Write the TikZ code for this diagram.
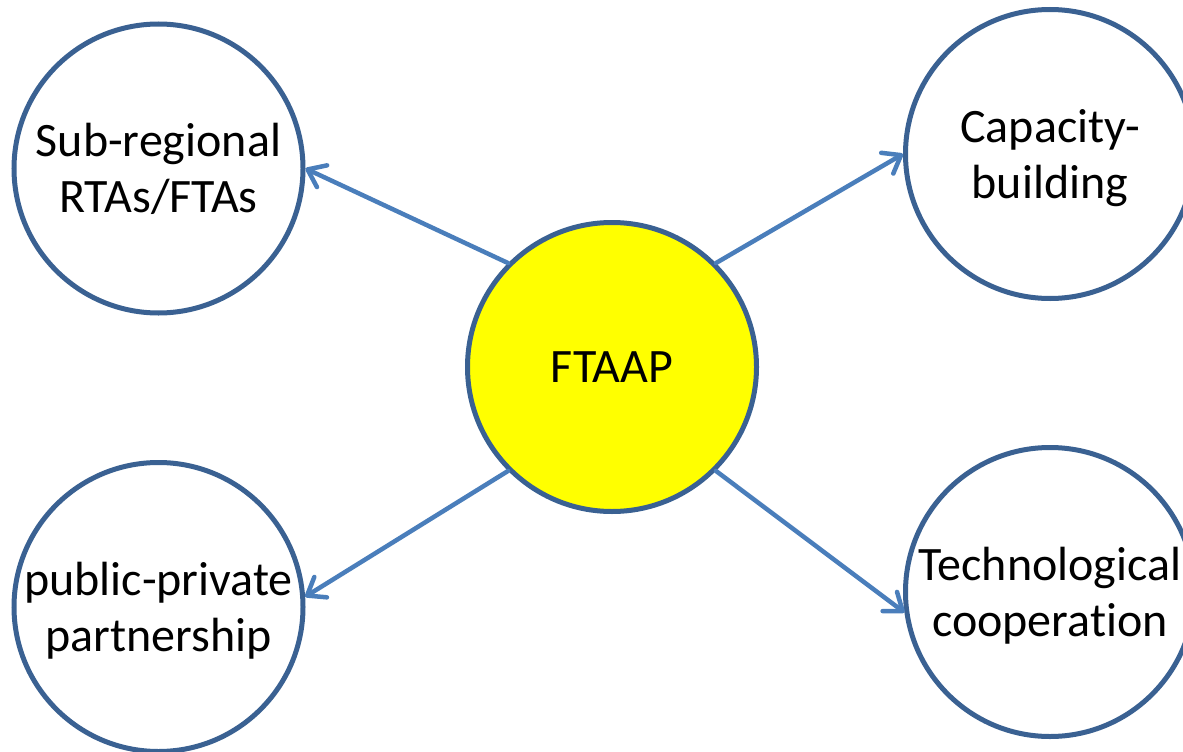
\documentclass[tikz,border=0pt]{standalone}
\usepackage{fontspec}
\setmainfont{Carlito}[RawFeature=-liga]
\usetikzlibrary{arrows.meta}
\definecolor{ringblue}{HTML}{3A6192}
\definecolor{arrowblue}{HTML}{4A7EBB}
\definecolor{hubyellow}{HTML}{FFFF00}
\tikzset{
  ring/.style={circle, draw=ringblue, line width=5pt, fill=white, minimum size=289pt, inner sep=0pt,
    align=center, font=\fontsize{48}{56}\selectfont, text height=96pt, text depth=8pt},
  hub/.style={ring, fill=hubyellow, text height=31pt, text depth=0pt},
  link/.style={draw=arrowblue, line width=4.5pt, line cap=round,
    -{Straight Barb[length=16pt, width=24pt, line cap=round, line join=round]}}
}
\begin{document}
\begin{tikzpicture}[x=1pt, y=-1pt]
\useasboundingbox (0,0) rectangle (1183,752);
\node[hub]  (c)  at (612,367)  {FTAAP};
\node[ring] (tl) at (158.5,168.5) {Sub-regional\\RTAs/FTAs};
\node[ring] (tr) at (1050,154) {Capacity-\\building};
\node[ring] (bl) at (158.5,607) {public-private\\partnership};
\node[ring] (br) at (1050,592) {Technological\\cooperation};
\draw[link] (c.135) -- (tl.east);
\draw[link] (c.45) -- (tr.west);
\draw[link] (c.225) -- (bl.4);
\draw[link] (c.-45) -- (br.188);
\end{tikzpicture}
\end{document}
